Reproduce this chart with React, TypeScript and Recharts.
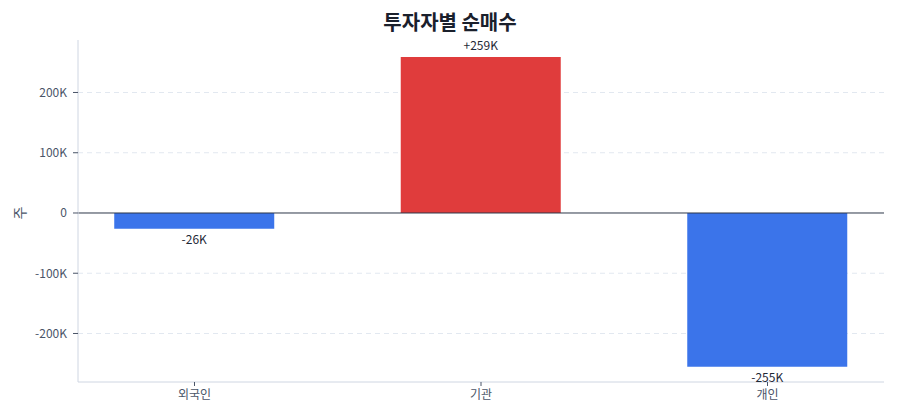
import { Bar, BarChart, CartesianGrid, Cell, LabelList, ReferenceLine, XAxis, YAxis } from "recharts";

const categories = ["외국인", "기관", "개인"];
const netBuy = [-26000, 259000, -255000];
const yTicks = [-200000, -100000, 0, 100000, 200000];
const yDomain = [-280500, 287100];

const data = categories.map((name, i) => ({ pos: i, name, value: netBuy[i] }));

const fmtK = (v: number) => (v === 0 ? "0" : `${Math.round(v / 1000)}K`);

const ValueLabel = (props: any) => {
  const { x, y, width, height, value } = props;
  const top = Math.min(y, y + height);
  const bottom = Math.max(y, y + height);
  const cx = x + width / 2;
  const text = value > 0 ? `+${fmtK(value)}` : fmtK(value);
  return (
    <text
      x={cx}
      y={value >= 0 ? top - 7 : bottom + 15}
      textAnchor="middle"
      fontSize={12}
      fill="#1f2937"
    >
      {text}
    </text>
  );
};

// rotated unit label on the y axis
const UnitLabel = (props: any) => {
  const { viewBox } = props;
  const x = viewBox.x + 11;
  const y = viewBox.y + viewBox.height / 2 + 2;
  return (
    <text
      x={x}
      y={y}
      transform={`rotate(-90, ${x}, ${y})`}
      textAnchor="middle"
      dominantBaseline="central"
      fontSize={14}
      fill="#4a5568"
    >
      주
    </text>
  );
};

// grid only at the y ticks (no line on the plot's top edge)
const gridRows = ({ offset }: any) =>
  yTicks
    .filter((t) => t !== 0)
    .map((t) => offset.top + ((yDomain[1] - t) / (yDomain[1] - yDomain[0])) * offset.height);

const App = () => {
  return (
    <div style={{ position: "relative", width: 884, height: 410, fontFamily: "'Noto Sans CJK KR', 'Noto Sans', sans-serif" }}>
      <div
        style={{
          position: "absolute",
          top: 1,
          left: 0,
          width: 884,
          textAlign: "center",
          fontSize: 20,
          fontWeight: 700,
          color: "#1a202c",
          lineHeight: "26px",
        }}
      >
        투자자별 순매수
      </div>
      <BarChart width={884} height={410} data={data} margin={{ top: 32, right: 8, bottom: 6, left: 0 }}>
        <CartesianGrid
          vertical={false}
          stroke="#e2e8f0"
          strokeDasharray="5 4"
          horizontalCoordinatesGenerator={gridRows}
        />
        <XAxis
          type="number"
          dataKey="pos"
          domain={[-0.4066, 2.4066]}
          ticks={[0, 1, 2]}
          tickFormatter={(i: number) => categories[i] ?? ""}
          stroke="#cfd6e2"
          tickLine={{ stroke: "#4a5568" }}
          tick={{ fill: "#4a5568", fontSize: 12 }}
          tickSize={4}
          tickMargin={4}
          height={30}
        />
        <YAxis
          domain={yDomain}
          ticks={yTicks}
          tickFormatter={fmtK}
          stroke="#cfd6e2"
          tickLine={{ stroke: "#4a5568" }}
          tick={{ fill: "#4a5568", fontSize: 12 }}
          tickSize={5}
          tickMargin={6}
          width={70}
          label={<UnitLabel />}
        />
        <ReferenceLine y={0} stroke="#2d3748" strokeWidth={1} />
        <Bar dataKey="value" barSize={160} isAnimationActive={false}>
          {data.map((d) => (
            <Cell key={d.name} fill={d.value >= 0 ? "#e03c3c" : "#3b74ea"} />
          ))}
          <LabelList dataKey="value" content={ValueLabel} />
        </Bar>
      </BarChart>
    </div>
  );
};

export default App;
